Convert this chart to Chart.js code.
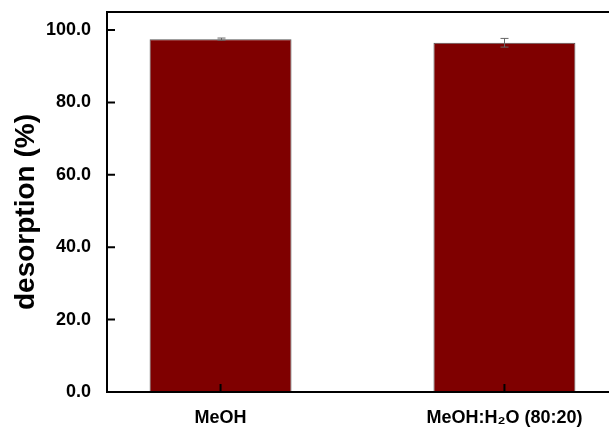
<!DOCTYPE html>
<html>
<head>
<meta charset="utf-8">
<script src="https://cdn.jsdelivr.net/npm/chart.js@4/dist/chart.umd.min.js"></script>
<style>
  html, body { margin: 0; padding: 0; background: #ffffff; overflow: hidden; }
  #wrap { width: 609px; height: 430px; overflow: hidden; }
</style>
</head>
<body>
<div id="wrap"><canvas id="c" width="630" height="430"></canvas></div>
<script>
// Solvent systems and mean desorption with standard deviation
const categories = ['MeOH', 'MeOH:H\u2082O (80:20)'];
const desorption = [97.5, 96.5];
const errors = [0.3, 1.2];
const yTicks = [0, 20, 40, 60, 80, 100];

const FONT = "'Liberation Sans', Arial, sans-serif";
const positions = categories.map((_, i) => i + 1);

// Frame, inward tick marks, error bars and rotated axis title
const decorations = {
  id: 'decorations',
  afterDatasetsDraw(chart) {
    const { ctx, chartArea: a, scales: { x, y } } = chart;
    ctx.save();

    // error bars
    ctx.strokeStyle = '#666666';
    ctx.lineWidth = 1;
    desorption.forEach((v, i) => {
      const px = Math.round(x.getPixelForValue(positions[i])) + 0.5;
      const top = y.getPixelForValue(v + errors[i]);
      const bot = y.getPixelForValue(v - errors[i]);
      ctx.beginPath();
      ctx.moveTo(px, top); ctx.lineTo(px, bot);
      ctx.moveTo(px - 4, top); ctx.lineTo(px + 4, top);
      ctx.moveTo(px - 4, bot); ctx.lineTo(px + 4, bot);
      ctx.stroke();
    });

    // frame
    ctx.strokeStyle = '#000000';
    ctx.lineWidth = 2;
    ctx.strokeRect(a.left, a.top, a.right - a.left, a.bottom - a.top);

    // inward ticks
    ctx.beginPath();
    yTicks.forEach(t => {
      const py = y.getPixelForValue(t);
      ctx.moveTo(a.left, py); ctx.lineTo(a.left + 8, py);
    });
    positions.forEach(p => {
      const px = x.getPixelForValue(p);
      ctx.moveTo(px, a.bottom); ctx.lineTo(px, a.bottom - 8);
    });
    ctx.stroke();

    // y axis title
    ctx.fillStyle = '#000000';
    ctx.font = 'bold 28px ' + FONT;
    ctx.textAlign = 'center';
    ctx.textBaseline = 'middle';
    ctx.translate(26, 212);
    ctx.rotate(-Math.PI / 2);
    ctx.fillText('desorption (%)', 0, 0);
    ctx.restore();
  }
};

new Chart(document.getElementById('c'), {
  type: 'bar',
  data: {
    datasets: [{
      data: positions.map((p, i) => ({ x: p, y: desorption[i] })),
      backgroundColor: '#7f0000',
      borderColor: '#555555',
      borderWidth: 1,
      categoryPercentage: 1.0,
      barPercentage: 0.5
    }]
  },
  options: {
    responsive: false,
    animation: false,
    devicePixelRatio: 1,
    layout: { padding: { left: 0, top: 12, right: 12, bottom: 0 } },
    plugins: { legend: { display: false }, tooltip: { enabled: false } },
    scales: {
      x: {
        type: 'linear',
        offset: false,
        min: 0.6,
        max: 2.4,
        grid: { display: false, offset: false },
        border: { display: false },
        afterBuildTicks: s => { s.ticks = positions.map(v => ({ value: v })); },
        afterFit: s => { s.height = 38; s.paddingLeft = 0; s.paddingRight = 0; },
        ticks: {
          padding: 7,
          color: '#000000',
          font: { family: FONT, size: 18, weight: 'bold' },
          callback: v => categories[positions.indexOf(v)],
          maxRotation: 0
        }
      },
      y: {
        min: 0,
        max: 105,
        grid: { display: false },
        border: { display: false },
        afterBuildTicks: s => { s.ticks = yTicks.map(v => ({ value: v })); },
        afterFit: s => { s.width = 107; s.paddingTop = 0; s.paddingBottom = 0; },
        ticks: {
          padding: 8,
          color: '#000000',
          font: { family: FONT, size: 18, weight: 'bold' },
          callback: v => Number(v).toFixed(1)
        }
      }
    }
  },
  plugins: [decorations]
});
</script>
</body>
</html>
